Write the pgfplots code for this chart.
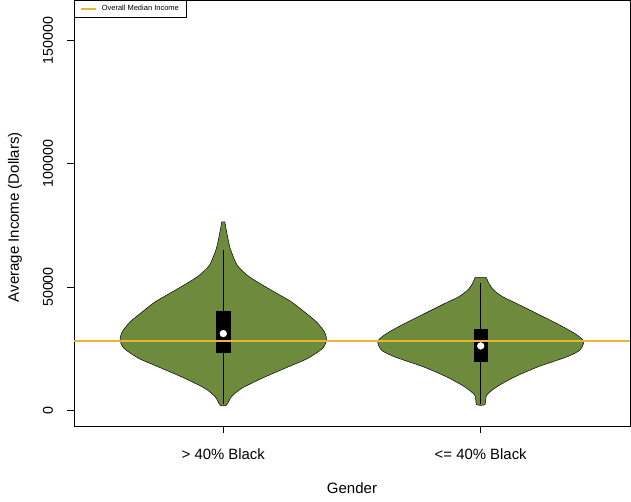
\documentclass[border=0pt]{standalone}
\usepackage{fontspec}
\setmainfont{Liberation Sans}
\usepackage{pgfplots}
\pgfplotsset{compat=1.18}
\definecolor{violin}{RGB}{110,139,61}
\definecolor{medline}{RGB}{232,182,50}
\begin{document}
\begin{tikzpicture}
\begin{axis}[
  at={(74pt,76pt)}, anchor=south west,
  scale only axis, width=556pt, height=426pt,
  xmin=0.42, xmax=2.58, ymin=-6400, ymax=166400,
  axis line style={black, line width=0.8pt},
  xtick={1,2}, xticklabels={{> 40\% Black},{<= 40\% Black}},
  ytick={0,50000,100000,150000},
  yticklabels={0,50000,100000,150000},
  scaled y ticks=false,
  tick align=outside, xtick pos=bottom, ytick pos=left,
  major tick length=7pt,
  tick style={black, line width=0.8pt},
  xticklabel style={font=\fontsize{14.9}{17}\selectfont, anchor=center, yshift=-21pt},
  yticklabel style={font=\fontsize{14.2}{17}\selectfont, xshift=-19pt, rotate=90, anchor=center},
  label style={font=\fontsize{15}{18}\selectfont},
  xlabel={Gender}, ylabel={Average Income (Dollars)},
  xlabel style={at={(axis description cs:0.5,-0.1596)}, anchor=base},
  ylabel style={at={(axis description cs:-0.106,0.49)}, anchor=center},
  legend style={at={(0,1)}, anchor=north west, draw=black, line width=0.8pt,
    font=\fontsize{7.5}{9}\selectfont, inner xsep=6pt, inner ysep=3pt},
  legend cell align=left,
  legend image code/.code={\draw[#1, line width=1.5pt] (0pt,0pt) -- (15pt,0pt); \path (18pt,0pt);},
]
% violin 1
\addplot[fill=violin, draw=black, line width=0.5pt, smooth, tension=0.4, forget plot] coordinates {
(0.994,76390) (0.987,72340) (0.973,65570) (0.946,58820) (0.907,54760) (0.868,52060)
(0.802,48000) (0.735,43940) (0.685,39890) (0.638,35830) (0.607,31770) (0.599,28400)
(0.615,25010) (0.673,20950) (0.763,16910) (0.852,12850) (0.930,8790) (0.969,5400) (0.988,2030)
(1.012,2030) (1.031,5400) (1.070,8790) (1.148,12850) (1.237,16910) (1.327,20950) (1.385,25010)
(1.401,28400) (1.393,31770) (1.362,35830) (1.315,39890) (1.265,43940) (1.198,48000)
(1.132,52060) (1.093,54760) (1.054,58820) (1.027,65570) (1.013,72340) (1.006,76390)
} -- cycle;
% violin 2
\addplot[fill=violin, draw=black, line width=0.5pt, smooth, tension=0.4, forget plot] coordinates {
(1.978,53810) (1.968,51380) (1.949,48680) (1.914,45970) (1.860,43270) (1.782,39210)
(1.704,35150) (1.634,31100) (1.600,27990) (1.615,24340) (1.666,21630) (1.778,17570)
(1.868,13520) (1.938,9460) (1.977,6090) (1.984,2300)
(2.016,2300) (2.023,6090) (2.062,9460) (2.132,13520) (2.222,17570) (2.334,21630)
(2.385,24340) (2.400,27990) (2.366,31100) (2.296,35150) (2.218,39210) (2.140,43270)
(2.086,45970) (2.051,48680) (2.032,51380) (2.022,53810)
} -- cycle;
% whiskers
\addplot[black, line width=0.6pt, forget plot] coordinates {(1,2700) (1,64900)};
\addplot[black, line width=0.6pt, forget plot] coordinates {(2,2400) (2,51640)};
% boxes
\addplot[fill=black, draw=black, forget plot] coordinates {(0.9736,23660) (1.0264,23660) (1.0264,40160) (0.9736,40160)} -- cycle;
\addplot[fill=black, draw=black, forget plot] coordinates {(1.9736,20000) (2.0264,20000) (2.0264,32740) (1.9736,32740)} -- cycle;
% medians
\addplot[only marks, mark=*, mark size=3.4pt, mark options={fill=white, draw=white}, forget plot] coordinates {(1,31090) (2,26080)};
% overall median line
\addplot[medline, line width=1.2pt] coordinates {(0.42,28070) (2.58,28070)};
\addlegendentry{Overall Median Income}
\end{axis}
\pgfresetboundingbox
\path (0,0) rectangle (631pt,502pt);
\end{tikzpicture}
\end{document}
